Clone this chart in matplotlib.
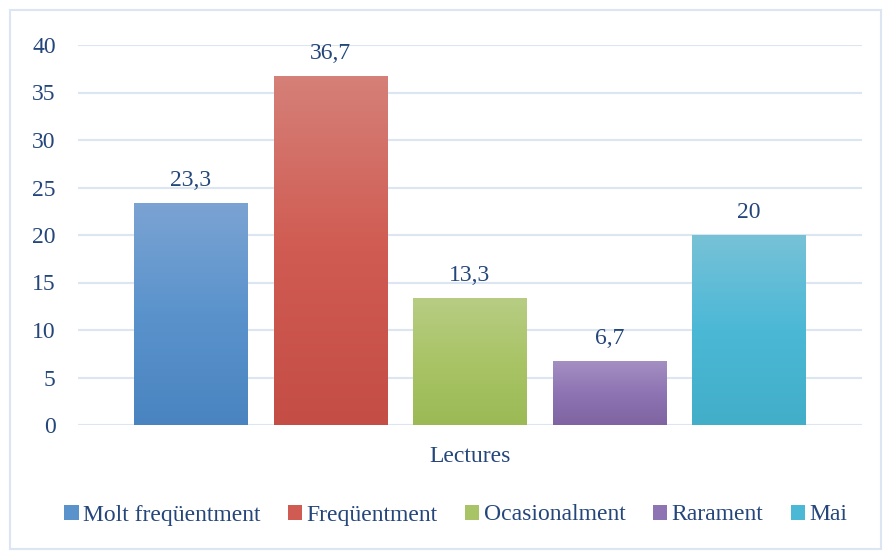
import numpy as np
import matplotlib.pyplot as plt
from matplotlib.patches import Rectangle
from matplotlib.colors import LinearSegmentedColormap

plt.rcParams['font.family'] = ['Liberation Serif', 'DejaVu Serif']

series = ['Molt freqüentment', 'Freqüentment', 'Ocasionalment', 'Rarament', 'Mai']
values = [23.3, 36.7, 13.3, 6.7, 20]
labels = ['23,3', '36,7', '13,3', '6,7', '20']
category = 'Lectures'

# top, middle, bottom shades for each bar's gradient
shades = [
    ('#7ba3d3', '#5a93cc', '#4a84c0'),
    ('#d58078', '#d05b52', '#c44e45'),
    ('#b7cd84', '#a9c466', '#9bba55'),
    ('#a48fc2', '#8e74b3', '#8064a2'),
    ('#77c2d7', '#4bb8d6', '#42aec8'),
]
text_col = '#24467a'
grid_col = '#dce6f2'
fs = 17

fig = plt.figure(figsize=(8.83, 5.51), dpi=100)
ax = fig.add_axes([78/883, 126/551, 784/883, 380/551])

x = np.arange(len(values))
width = 0.814
for i, v in enumerate(values):
    cmap = LinearSegmentedColormap.from_list('g', list(shades[i][::-1]))
    grad = np.linspace(0, 1, 256).reshape(-1, 1)
    ax.imshow(grad, extent=[x[i] - width/2, x[i] + width/2, 0, v], origin='lower',
              aspect='auto', cmap=cmap, zorder=3)
    ax.annotate(labels[i], (x[i], v), xytext=(0, 9), textcoords='offset points',
                ha='center', va='bottom', fontsize=fs, color=text_col, zorder=4)

ax.set_xlim(2 - 2.81, 2 + 2.81)
ax.set_ylim(0, 40)
ax.set_yticks(range(0, 41, 5))
ax.set_yticklabels([str(t) for t in range(0, 41, 5)], fontsize=fs, color=text_col)
ax.set_xticks([2])
ax.set_xticklabels([category], fontsize=fs, color=text_col)
ax.tick_params(axis='both', length=0)
ax.tick_params(axis='y', pad=16)
ax.tick_params(axis='x', pad=15)
ax.grid(axis='y', color=grid_col, linewidth=1.5, zorder=0)
ax.set_axisbelow(True)
for s in ax.spines.values():
    s.set_visible(False)

handles = [Rectangle((0, 0), 1, 1, facecolor=sh[1]) for sh in shades]
fig.legend(handles, series, loc='center', bbox_to_anchor=(456/883, 1 - 515/551), ncol=5,
           frameon=False, fontsize=fs, handlelength=0.6, handleheight=0.6,
           handletextpad=0.2, columnspacing=1.15, labelcolor=text_col)

fig.patches.append(Rectangle((10/883, 2/551), 871/883, 539/551, transform=fig.transFigure,
                             fill=False, edgecolor=grid_col, linewidth=1.5))

fig.savefig('out.png', dpi=100)
